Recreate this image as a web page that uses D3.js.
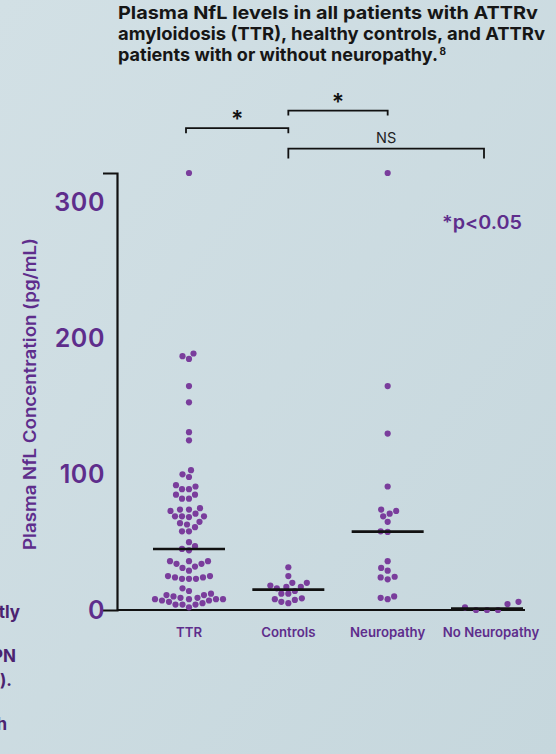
<!DOCTYPE html>
<html>
<head>
<meta charset="utf-8">
<script src="https://cdn.jsdelivr.net/npm/d3@7"></script>
<style>
  html, body { margin: 0; padding: 0; }
  body { width: 556px; height: 754px; overflow: hidden; }
  svg { display: block; font-family: Inter, "Noto Sans", sans-serif; }
</style>
</head>
<body>
<svg id="chart" width="556" height="754"></svg>
<script>
// groups on the x axis
var categories = ["TTR", "Controls", "Neuropathy", "No Neuropathy"];

// plasma NfL values (pg/mL)
var ttrValues = [322,
  189, 185, 187,
  165, 153, 131, 125,
  103, 98, 100,
  91, 89, 89, 92,
  85, 82, 82, 85,
  75, 74, 69, 68.5, 71, 73, 69, 74, 69,
  64, 65, 61, 58, 58, 63,
  50, 47, 44, 45,
  34, 36, 32, 36, 36, 31, 34, 29,
  25, 24, 23, 23, 23, 24, 25,
  16,
  14, 11, 10, 9, 8, 8, 8, 8, 9, 11, 12,
  7, 5, 4, 2, 4, 4, 6, 7];
var controlValues = [31.5, 25, 20, 18, 20, 17, 16, 17, 14, 12, 12, 8, 7.4, 5, 6, 8.6];
var neuropathyValues = [322, 165, 130, 91, 73, 74, 69, 71, 65, 57.5, 58, 36, 29, 31, 24.5, 22.6, 24, 10, 8, 9];
var noNeuropathyValues = [4.4, 0, 0, 0, 2, 6];

var yTicks = [0, 100, 200, 300];

// significance brackets, level given in pg/mL units above the data
var comparisons = [
  {from: "TTR", to: "Controls", label: "*", level: 355},
  {from: "Controls", to: "Neuropathy", label: "*", level: 368},
  {from: "Controls", to: "No Neuropathy", label: "NS", level: 340}
];

var titleLines = ["Plasma NfL levels in all patients with ATTRv",
  "amyloidosis (TTR), healthy controls, and ATTRv",
  "patients with or without neuropathy."];
var titleWidths = [420, 427, 320];

var groups = [ttrValues, controlValues, neuropathyValues, noNeuropathyValues];

var purple = "#7a3d9c";
var darkPurple = "#5e2d8c";

var svg = d3.select("#chart");

// background
var defs = svg.append("defs");
var grad = defs.append("linearGradient").attr("id", "bg")
  .attr("x1", "0").attr("y1", "0").attr("x2", "1").attr("y2", "1");
grad.append("stop").attr("offset", "0").attr("stop-color", "#d2e0e5");
grad.append("stop").attr("offset", "1").attr("stop-color", "#c6d7dd");
svg.append("rect").attr("width", 556).attr("height", 754).attr("fill", "url(#bg)");

var y = d3.scaleLinear().domain([0, 322]).range([610, 173]);
var x = d3.scalePoint().domain(categories).range([189, 487]);

// title, stretched a bit since the original face is wider
titleLines.forEach(function(line, i){
  svg.append("text")
    .attr("x", 118).attr("y", 18.5 + i * 21)
    .attr("font-size", 18).attr("font-weight", 700).attr("fill", "#161616")
    .attr("textLength", titleWidths[i]).attr("lengthAdjust", "spacingAndGlyphs")
    .text(line);
});
svg.append("text")
  .attr("x", 118 + titleWidths[2] + 1.5).attr("y", 55)
  .attr("font-size", 10).attr("font-weight", 700).attr("fill", "#161616")
  .text("8");

// y axis with outer ticks at both ends
var axis = svg.append("g").attr("transform", "translate(117,0)")
  .call(d3.axisLeft(y).tickValues(yTicks).tickSizeInner(0).tickSizeOuter(14).tickPadding(12));
axis.select(".domain").attr("stroke", "#111").attr("stroke-width", 2.2);
axis.selectAll(".tick text")
  .attr("font-size", 25).attr("font-weight", 600).attr("fill", darkPurple)
  .attr("letter-spacing", 0.6)
  .attr("font-family", "Inter, sans-serif");

// baseline
svg.append("line")
  .attr("x1", 117).attr("x2", 525)
  .attr("y1", y(0)).attr("y2", y(0))
  .attr("stroke", "#111").attr("stroke-width", 2.2);

svg.append("text")
  .attr("transform", "translate(36,394) rotate(-90)")
  .attr("text-anchor", "middle")
  .attr("font-size", 17).attr("font-weight", 600).attr("fill", darkPurple)
  .attr("textLength", 312).attr("lengthAdjust", "spacingAndGlyphs")
  .text("Plasma NfL Concentration (pg/mL)");

// category labels
svg.selectAll(".cat").data(categories).enter().append("text")
  .attr("class", "cat")
  .attr("x", function(d){ return x(d) + (d === "No Neuropathy" ? 4 : 0); })
  .attr("y", 637)
  .attr("text-anchor", "middle")
  .attr("font-size", 13.2).attr("font-weight", 600).attr("fill", darkPurple)
  .text(function(d){ return d; });

// simple beeswarm: each dot takes the x offset closest to the centre that doesn't collide
var swarm = function(values, minDist){
  var placed = [];
  var order = values.map(function(v, i){ return i; })
    .sort(function(a, b){ return values[a] - values[b]; });
  var out = [];
  order.forEach(function(i){
    var py = y(values[i]);
    var dx = 0;
    for(var k = 0; k < 400; k++){
      var tryDx = (k % 2 === 0 ? 1 : -1) * Math.ceil(k / 2) * 0.5;
      var ok = placed.every(function(p){
        var ddx = p.dx - tryDx, ddy = p.y - py;
        return ddx * ddx + ddy * ddy >= minDist * minDist;
      });
      if(ok){ dx = tryDx; break; }
    }
    placed.push({dx: dx, y: py});
    out.push({value: values[i], dx: dx});
  });
  return out;
};

groups.forEach(function(values, gi){
  var cat = categories[gi];
  var dots = swarm(values, gi === 3 ? 11 : 7);
  svg.append("g").selectAll("circle").data(dots).enter().append("circle")
    .attr("cx", function(d){ return x(cat) + d.dx; })
    .attr("cy", function(d){ return y(d.value); })
    .attr("r", 3.1)
    .attr("fill", purple);

  // median line
  var med = d3.median(values);
  svg.append("line")
    .attr("x1", x(cat) - 36).attr("x2", x(cat) + 36)
    .attr("y1", y(med)).attr("y2", y(med))
    .attr("stroke", "#111").attr("stroke-width", 2.6);
});

// brackets
comparisons.forEach(function(c){
  var x1 = x(c.from) - (c.from === "TTR" ? 3 : 0);
  var x2 = x(c.to) - (c.to === "No Neuropathy" ? 3 : 0);
  var ly = y(c.level);
  var drop = c.label === "NS" ? 10 : 5;
  svg.append("path")
    .attr("d", "M" + x1 + "," + (ly + drop) + "V" + ly + "H" + x2 + "V" + (ly + drop))
    .attr("fill", "none").attr("stroke", "#111").attr("stroke-width", 1.8);
  if(c.label === "NS"){
    svg.append("text")
      .attr("x", (x1 + x2) / 2).attr("y", ly - 6)
      .attr("text-anchor", "middle")
      .attr("font-size", 14.5).attr("fill", "#222")
      .text(c.label);
  }else{
    svg.append("text")
      .attr("x", (x1 + x2) / 2).attr("y", ly - 1)
      .attr("text-anchor", "middle")
      .attr("font-size", 23).attr("font-weight", 600).attr("fill", "#111")
      .text(c.label);
  }
});

svg.append("text")
  .attr("x", 522).attr("y", 229)
  .attr("text-anchor", "end")
  .attr("font-size", 18.5).attr("font-weight", 600).attr("fill", darkPurple)
  .attr("textLength", 80).attr("lengthAdjust", "spacingAndGlyphs")
  .text("*p<0.05");

// clipped text from the neighbouring column
var sideText = [["tly", 618, 20], ["PN", 662, 16], [").", 686, 12], ["h", 730, 7]];
sideText.forEach(function(s){
  svg.append("text")
    .attr("x", s[2]).attr("y", s[1])
    .attr("text-anchor", "end")
    .attr("font-size", 17).attr("font-weight", 700).attr("fill", "#4b2370")
    .text(s[0]);
});
</script>
</body>
</html>
